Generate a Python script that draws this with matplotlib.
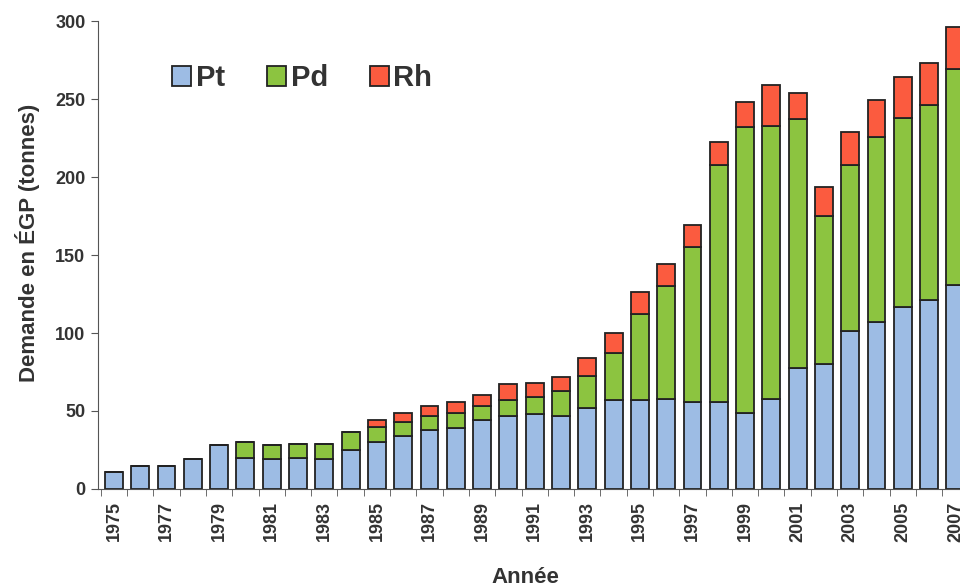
import numpy as np
import matplotlib.pyplot as plt

plt.rcParams['font.family'] = ['Liberation Sans', 'DejaVu Sans']
plt.rcParams['font.weight'] = 'bold'
plt.rcParams['axes.labelweight'] = 'bold'

years = list(range(1975, 2008))
pt = [11, 15, 15, 19.5, 28, 20, 19, 20, 19, 25, 30, 34, 38, 39, 44, 47, 48, 47, 52,
      57, 57, 58, 55.5, 55.5, 49, 58, 77.5, 80, 101, 107, 117, 121, 131]
pd_ = [0, 0, 0, 0, 0, 10, 9, 9, 10, 11.5, 9.5, 9, 9, 9.5, 9, 10, 11, 16, 20.5,
       30, 55, 72, 99.5, 152, 183, 175, 159.5, 95, 107, 119, 121, 125, 138]
rh = [0, 0, 0, 0, 0, 0, 0, 0, 0, 0, 4.5, 6, 6.5, 7, 7, 10, 9, 8.5, 11.5,
      13, 14.5, 14, 14, 15, 16, 26, 17, 18.5, 21, 23.5, 26, 27, 27]
labels = ['Pt', 'Pd', 'Rh']
colors = ['#9dbce4', '#8cc440', '#fb5b3f']

pt = np.array(pt)
pd_ = np.array(pd_)
rh = np.array(rh)
x = np.arange(len(years))

fig = plt.figure(figsize=(9.6, 5.87), dpi=100)
ax = fig.add_axes([0.102, 0.167, 0.9135, 0.797])

w = 0.68
ax.bar(x, pt, w, color=colors[0], edgecolor='#222222', linewidth=1.3, label=labels[0])
ax.bar(x, pd_, w, bottom=pt, color=colors[1], edgecolor='#222222', linewidth=1.3, label=labels[1])
ax.bar(x, rh, w, bottom=pt + pd_, color=colors[2], edgecolor='#222222', linewidth=1.3, label=labels[2])

ax.set_xlim(-0.61, 32.74)
ax.set_ylim(0, 300)
ax.set_yticks(range(0, 301, 50))
ax.tick_params(axis='y', labelsize=13, labelcolor='#333333', direction='out',
               length=5, color='#555555', pad=4)

ax.set_xticks(x[::2])
ax.set_xticklabels([str(y) for y in years[::2]], rotation=90, fontsize=13, color='#333333')
ax.set_xticks(np.arange(-0.5, len(years), 1), minor=True)
ax.tick_params(axis='x', which='major', length=0, pad=9)
ax.tick_params(axis='x', which='minor', direction='out', length=5, color='#555555')

for s in ['top', 'right']:
    ax.spines[s].set_visible(False)
ax.spines['left'].set_color('#555555')
ax.spines['bottom'].set_color('#555555')

ax.set_ylabel('Demande en ÉGP (tonnes)', fontsize=16, color='#333333')
ax.yaxis.set_label_coords(-0.066, 0.525)
ax.set_xlabel('Année', fontsize=16, color='#333333')
ax.xaxis.set_label_coords(0.487, -0.167)

ax.legend(loc='center left', bbox_to_anchor=(0.085, 0.878), ncol=3, frameon=False,
          fontsize=21, handlelength=0.65, handleheight=0.65, handletextpad=0.15,
          columnspacing=1.45, borderpad=0, borderaxespad=0, labelcolor='#333333')

fig.savefig('out.png', dpi=100)
